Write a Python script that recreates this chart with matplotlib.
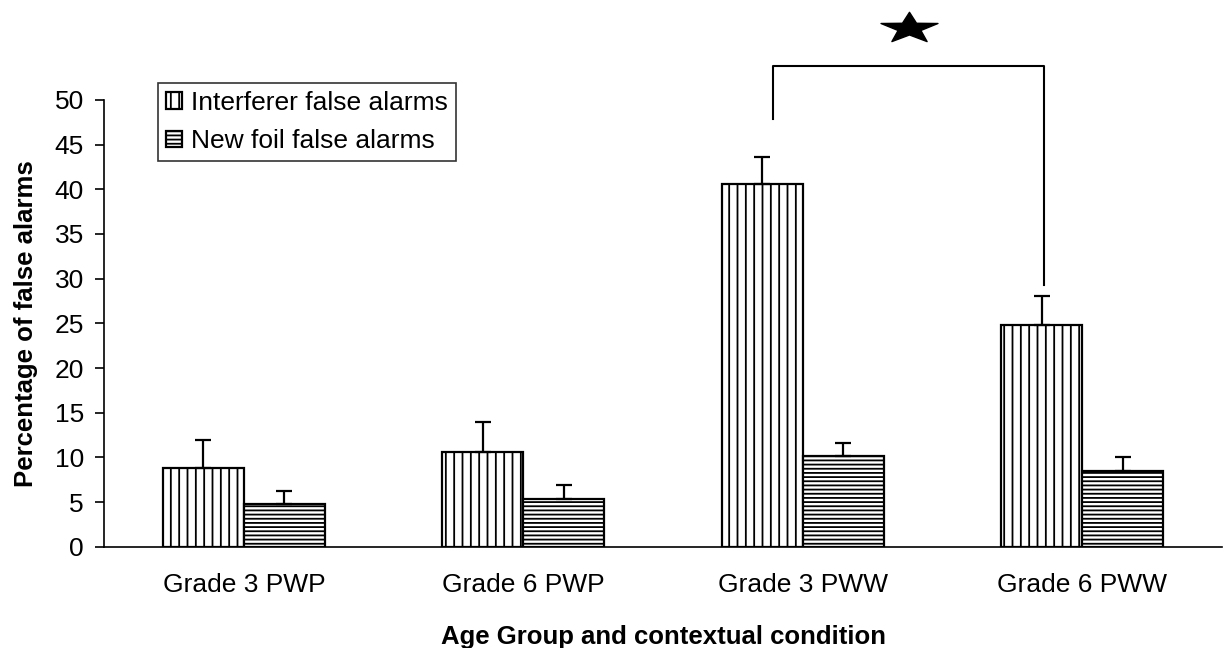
import numpy as np
import matplotlib
matplotlib.use('Agg')
import matplotlib.pyplot as plt
from matplotlib.path import Path

# values
groups = ['Grade 3 PWP', 'Grade 6 PWP', 'Grade 3 PWW', 'Grade 6 PWW']
interferer = [8.8, 10.6, 40.6, 24.8]
interferer_err = [3.1, 3.4, 3.0, 3.3]
new_foil = [4.8, 5.4, 10.2, 8.5]
new_foil_err = [1.4, 1.5, 1.4, 1.6]
series_names = ['Interferer false alarms', 'New foil false alarms']

plt.rcParams['font.family'] = ['Liberation Sans', 'DejaVu Sans']
plt.rcParams['hatch.linewidth'] = 1.3
plt.rcParams['hatch.color'] = 'black'

fig = plt.figure(figsize=(12.25, 6.48), dpi=100)
ax = fig.add_axes([0.085, 0.156, 0.9125, 0.69])

x = np.arange(len(groups))
w = 0.29
err_kw = dict(ecolor='black', elinewidth=1.6, capsize=6, capthick=1.6)

ax.bar(x - w / 2, interferer, w, yerr=[np.zeros(4), interferer_err],
       color='white', edgecolor='black', linewidth=1.6, hatch='||',
       label=series_names[0], error_kw=err_kw, zorder=2)
ax.bar(x + w / 2, new_foil, w, yerr=[np.zeros(4), new_foil_err],
       color='white', edgecolor='black', linewidth=1.6, hatch='----',
       label=series_names[1], error_kw=err_kw, zorder=2)

ax.set_xlim(-0.5, 3.5)
ax.set_ylim(0, 50)
ax.set_yticks(np.arange(0, 51, 5))
ax.set_xticks(x)
ax.set_xticklabels(groups)
ax.tick_params(axis='x', length=0, pad=19, labelsize=19)
ax.tick_params(axis='y', length=6.5, width=1.2, direction='out', pad=8, labelsize=19)
for s in ['top', 'right']:
  ax.spines[s].set_visible(False)
for s in ['left', 'bottom']:
  ax.spines[s].set_linewidth(1.2)

ax.set_xlabel('Age Group and contextual condition', fontsize=18.5, fontweight='bold', labelpad=20)
ax.set_ylabel('Percentage of false alarms', fontsize=18.5, fontweight='bold', labelpad=12)

# significance bracket between Grade 3 PWW and Grade 6 PWW interferer bars
xl = x[2] - w / 2 + 0.04
xr = x[3] - w / 2 + 0.01
ax.plot([xl, xl, xr, xr], [47.8, 53.8, 53.8, 29.3], color='black', lw=1.5,
        clip_on=False, zorder=3)

# flattened five point star, as in the original
ang = np.pi / 2 + np.arange(10) * np.pi / 5
rad = np.where(np.arange(10) % 2 == 0, 1.0, 0.4)
verts = np.column_stack([1.85 * rad * np.cos(ang), rad * np.sin(ang)])
verts = np.vstack([verts, verts[:1]])
star = Path(verts, closed=True)
ax.plot([(xl + xr) / 2], [58.0], marker=star, markersize=41, color='black',
        clip_on=False, zorder=3)

leg = ax.legend(loc='upper left', bbox_to_anchor=(0.0483, 1.038), fontsize=19,
                frameon=True, fancybox=False, edgecolor='black',
                handlelength=0.6, handleheight=0.6, handletextpad=0.35,
                borderpad=0.3, labelspacing=0.55, borderaxespad=0)
leg.get_frame().set_linewidth(1.2)

fig.savefig('out.png', dpi=100)
